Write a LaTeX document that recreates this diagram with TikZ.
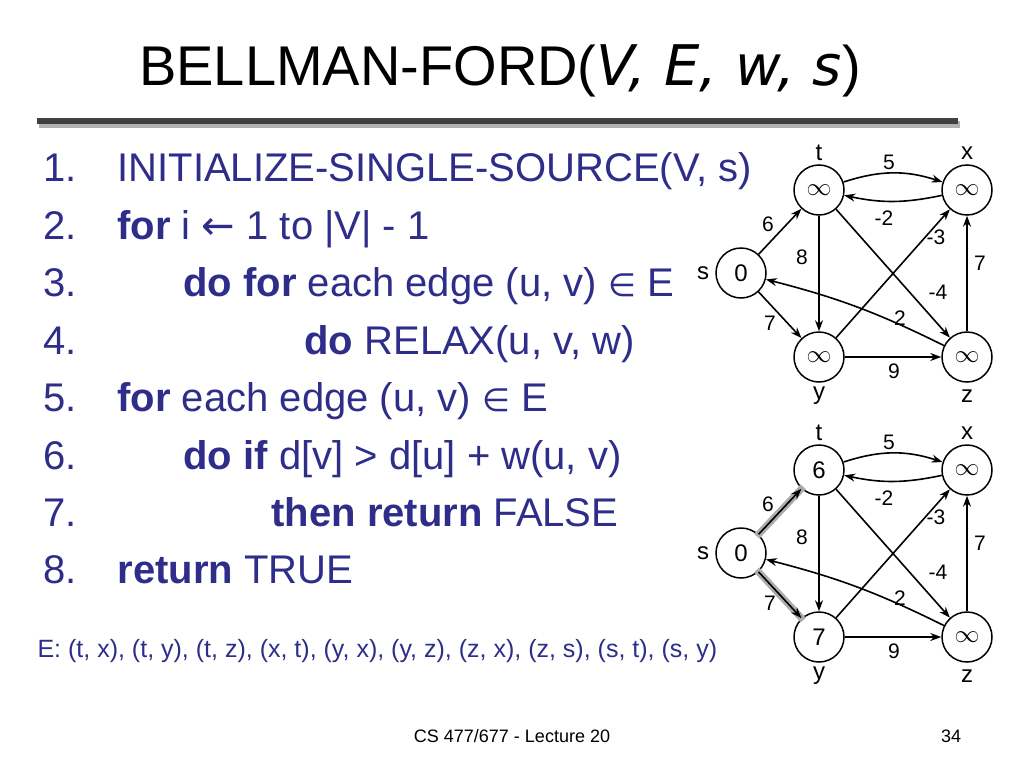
\documentclass[tikz,border=0pt]{standalone}
\usepackage{fontspec}
\setmainfont{Liberation Sans}
\newfontfamily\argfont{DejaVu Sans}
\newfontfamily\symfont{DejaVu Sans}
\usetikzlibrary{arrows.meta}
\definecolor{txtblue}{HTML}{2E2E8A}
\tikzset{
  vtx/.style={circle,draw,line width=1.5pt,minimum size=50pt,inner sep=0pt,font=\fontsize{24}{26}\selectfont},
  nm/.style={font=\fontsize{24}{26}\selectfont},
  wl/.style={font=\fontsize{21}{23}\selectfont},
  ed/.style={line width=1.6pt,-{Stealth[length=11pt,width=8pt]}},
  hl/.style={line width=7pt,gray!65},
  ln/.style={anchor=base west,text=txtblue,font=\fontsize{40}{44}\selectfont},
}
\newcommand{\esym}{{\symfont\fontsize{32}{34}\selectfont ∈}}
\newcommand{\drawgraph}[5]{%
  \node[vtx] (s#5) at (741,273) {#1};
  \node[vtx] (t#5) at (819,190) {#2};
  \node[vtx] (x#5) at (967,190) {$\infty$};
  \node[vtx] (y#5) at (819,357) {#3};
  \node[vtx] (z#5) at (967,357) {$\infty$};
  \node[nm] at (819,153) {t};
  \node[nm] at (967,153) {x};
  \node[nm] at (703,273) {s};
  \node[nm] at (819,396) {y};
  \node[nm] at (967,396) {z};
  #4
  \draw[ed] (t#5) to[bend left=18] (x#5);
  \draw[ed] (x#5) to[bend left=12] (t#5);
  \draw[ed] (s#5) -- (t#5);
  \draw[ed] (s#5) -- (y#5);
  \draw[ed] (t#5) -- (y#5);
  \draw[ed] (t#5) -- (z#5);
  \draw[ed] (y#5) -- (x#5);
  \draw[ed] (y#5) -- (z#5);
  \draw[ed] (z#5) -- (x#5);
  \draw[ed] (z#5) to[bend right=6] (s#5);
  \node[wl] at (889,162) {5};
  \node[wl] at (884,218) {-2};
  \node[wl] at (936,237) {-3};
  \node[wl] at (768,224) {6};
  \node[wl] at (802,257) {8};
  \node[wl] at (980,263) {7};
  \node[wl] at (938,292) {-4};
  \node[wl] at (900,318) {2};
  \node[wl] at (770,323) {7};
  \node[wl] at (894,371) {9};
}
\begin{document}
\begin{tikzpicture}[x=1pt,y=-1pt]
\useasboundingbox[fill=white] (0,0) rectangle (1024,768);
\node[anchor=base,font=\fontsize{56}{60}\selectfont] (title) at (500,85) {BELLMAN-FORD({\argfont\itshape V, E, w, s})};
\fill[gray!60] (39,121) rectangle (960,128);
\fill[black!75] (37,118) rectangle (958,124);
\foreach \n/\yy/\t in {
 1/181/{INITIALIZE-SINGLE-SOURCE(V, s)},
 2/239/{\textbf{for} i {\symfont ←} 1 to |V| - 1},
 3/296/{\hspace*{66pt}\textbf{do for} each edge (u, v) \esym{} E},
 4/354/{\hspace*{187pt}\textbf{do} RELAX(u, v, w)},
 5/411/{\textbf{for} each edge (u, v) \esym{} E},
 6/469/{\hspace*{66pt}\textbf{do if} d[v] > d[u] + w(u, v)},
 7/526/{\hspace*{154pt}\textbf{then return} FALSE},
 8/583/{\textbf{return} TRUE}}{
 \node[ln] (n\n) at (40,\yy) {\n.};
 \node[ln] (l\n) at (114,\yy) {\t};
}
\node[anchor=base west,text=txtblue,font=\fontsize{25}{27}\selectfont] (elist) at (34,657) {E: (t, x), (t, y), (t, z), (x, t), (y, x), (y, z), (z, x), (z, s), (s, t), (s, y)};
\node[font=\fontsize{18}{20}\selectfont] (foot) at (512,736) {CS 477/677 - Lecture 20};
\node[font=\fontsize{18}{20}\selectfont] (page) at (951,736) {34};
\drawgraph{0}{$\infty$}{$\infty$}{}{a}
\begin{scope}[shift={(0,280)}]
\drawgraph{0}{6}{7}{%
  \path (741,273) coordinate (hs) (819,190) coordinate (ht) (819,357) coordinate (hy);
  \draw[hl,shorten <=23pt,shorten >=23pt] (hs) -- (ht);
  \draw[hl,shorten <=23pt,shorten >=23pt] (hs) -- (hy);
}{b}
\end{scope}
\end{tikzpicture}
\end{document}
